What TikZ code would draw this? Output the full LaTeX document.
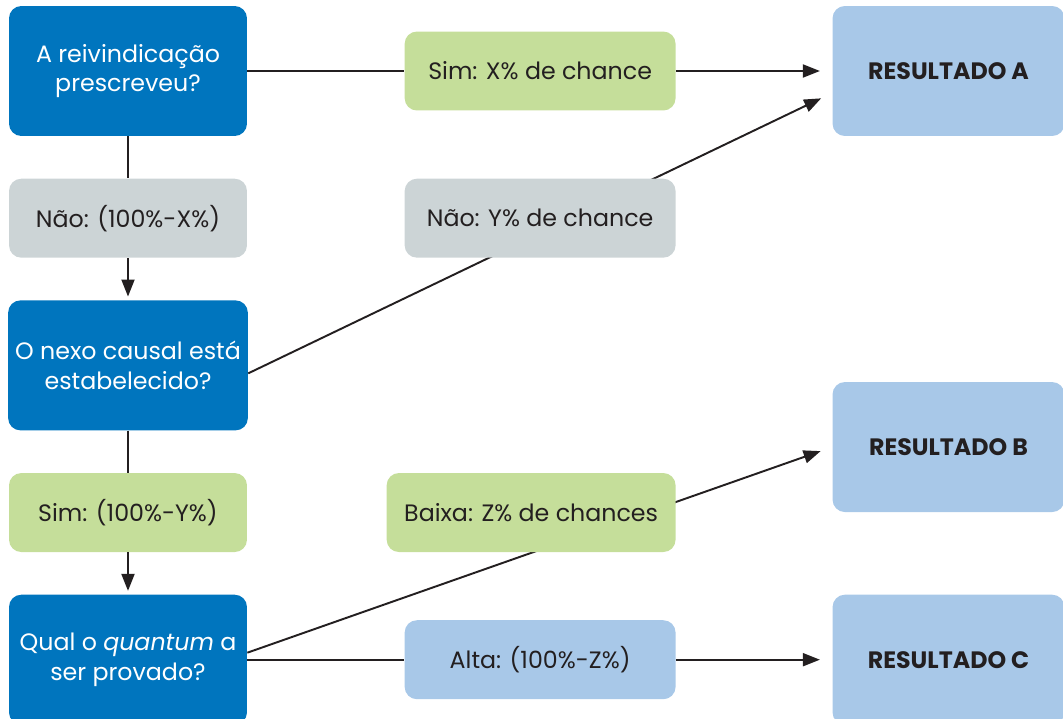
\documentclass[tikz,border=0pt]{standalone}
\usepackage{fontspec}
\setmainfont{Poppins}
\usepackage{xcolor}
\definecolor{askblue}{HTML}{0075BE}
\definecolor{yesgreen}{HTML}{C5DE9A}
\definecolor{nogray}{HTML}{CCD4D6}
\definecolor{outblue}{HTML}{A8C8E8}
\definecolor{ink}{HTML}{231F20}
\usetikzlibrary{positioning,arrows.meta}
\begin{document}
\begin{tikzpicture}[x=0.02cm,y=-0.02cm,
  node distance=0.84cm and 3.14cm,
  ask/.style={fill=askblue,text=white,rounded corners=7pt,align=center,font=\fontsize{13.5}{17}\selectfont,
              minimum width=4.76cm,minimum height=2.6cm,inner sep=4pt},
  yes/.style={fill=yesgreen,text=ink,rounded corners=7pt,align=center,font=\fontsize{13.5}{17}\selectfont,
              minimum width=5.42cm,minimum height=1.58cm,inner sep=4pt},
  no/.style={yes,fill=nogray},
  high/.style={yes,fill=outblue},
  outcome/.style={fill=outblue,text=ink,rounded corners=7pt,align=center,font=\fontsize{13.5}{17}\selectfont\bfseries,
              minimum width=4.64cm,minimum height=2.6cm,inner sep=4pt},
  line/.style={draw=ink,line width=1.1pt},
  arr/.style={line,-{Triangle[length=0.34cm,width=0.26cm]}}]
\useasboundingbox (0,0) rectangle (1063,718);
\node[ask] (q1) at (128,71) {A reivindicação\\prescreveu?};
\node[no,minimum width=4.76cm,below=of q1] (nao1) {Não: (100\%-X\%)};
\node[ask,below=of nao1] (q2) {O nexo causal está\\estabelecido?};
\node[yes,minimum width=4.76cm,below=of q2] (sim2) {Sim: (100\%-Y\%)};
\node[ask,below=of sim2] (q3) {Qual o \textit{quantum} a\\ser provado?};
\node[outcome,right=of q1,xshift=8.56cm] (resA) {RESULTADO A};
\node[outcome,right=of q3,xshift=8.56cm] (resC) {RESULTADO C};
\node[outcome,above=1.64cm of resC] (resB) {RESULTADO B};
% diagonals go behind the label boxes
\draw[arr,shorten >=7] ([shift={(0,8)}]q2.east) -- ([shift={(0,22)}]resA.west);
\draw[arr,shorten >=7] ([shift={(0,-7)}]q3.east) -- (resB.west);
\node[yes,right=of q1] (sim1) {Sim: X\% de chance};
\node[no,right=of nao1] (nao2) {Não: Y\% de chance};
\node[yes,minimum width=5.78cm,right=2.78cm of sim2] (baixa) {Baixa: Z\% de chances};
\node[high,right=of q3] (alta) {Alta: (100\%-Z\%)};
\draw[line] (q1) -- (sim1); \draw[arr,shorten >=7] (sim1) -- (resA);
\draw[line] (q1) -- (nao1); \draw[arr,shorten >=2] (nao1) -- (q2);
\draw[line] (q2) -- (sim2); \draw[arr,shorten >=2] (sim2) -- (q3);
\draw[line] (q3) -- (alta); \draw[arr,shorten >=7] (alta) -- (resC);
\end{tikzpicture}
\end{document}
